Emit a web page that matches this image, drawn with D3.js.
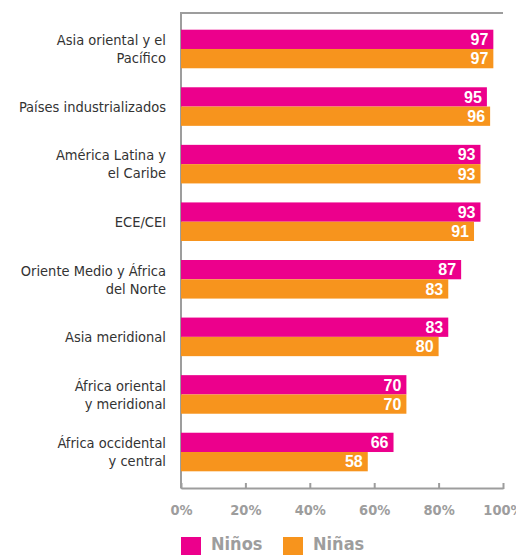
<!DOCTYPE html>
<html>
<head>
<meta charset="utf-8">
<script src="https://cdn.jsdelivr.net/npm/d3@7"></script>
<style>
  html, body { margin: 0; padding: 0; background: #fff; }
  svg { display: block; }
  .cond { font-family: "Liberation Sans Narrow", "DejaVu Sans Condensed", "Roboto", sans-serif; }
</style>
</head>
<body>
<svg id="chart" width="516" height="555"></svg>
<script>
// Regions (label lines), values for boys and girls (%)
const regions = [
  ["Asia oriental y el", "Pacífico"],
  ["Países industrializados"],
  ["América Latina y", "el Caribe"],
  ["ECE/CEI"],
  ["Oriente Medio y África", "del Norte"],
  ["Asia meridional"],
  ["África oriental", "y meridional"],
  ["África occidental", "y central"]
];
const ninos = [97, 95, 93, 93, 87, 83, 70, 66];
const ninas = [97, 96, 93, 91, 83, 80, 70, 58];
const seriesNames = ["Niños", "Niñas"];
const seriesColors = ["#EC008C", "#F7941D"];
const xTicks = [0, 20, 40, 60, 80, 100];

const svg = d3.select("#chart");
const plotL = 181, plotR = 503, plotT = 13, plotB = 488;

const x = d3.scaleLinear().domain([0, 100]).range([plotL, plotR]);
const y = d3.scaleBand()
  .domain(d3.range(regions.length))
  .range([plotT, plotB])
  .paddingInner(0.33)
  .paddingOuter(0.29);
const sub = d3.scaleBand().domain([0, 1]).range([0, y.bandwidth()]);

const axisColor = "#9d9d9d";

// frame: top rule and left axis
svg.append("line").attr("x1", plotL).attr("x2", plotR).attr("y1", plotT).attr("y2", plotT)
  .attr("stroke", axisColor).attr("stroke-width", 2);
svg.append("line").attr("x1", plotL).attr("x2", plotL).attr("y1", plotT - 1).attr("y2", plotB)
  .attr("stroke", axisColor).attr("stroke-width", 2);

// bars
const rows = regions.map((r, i) => ({ i, vals: [ninos[i], ninas[i]] }));
const g = svg.append("g").selectAll("g").data(rows).join("g")
  .attr("transform", d => `translate(0,${y(d.i)})`);

g.selectAll("rect").data(d => d.vals.map((v, k) => ({ v, k }))).join("rect")
  .attr("x", x(0))
  .attr("y", d => sub(d.k))
  .attr("width", d => x(d.v) - x(0))
  .attr("height", sub.bandwidth())
  .attr("fill", d => seriesColors[d.k]);

g.selectAll("text.val").data(d => d.vals.map((v, k) => ({ v, k }))).join("text")
  .attr("class", "val")
  .attr("x", d => x(d.v) - 5)
  .attr("y", d => sub(d.k) + sub.bandwidth() / 2)
  .attr("dy", "0.36em")
  .attr("text-anchor", "end")
  .attr("fill", "#fff")
  .style("font-family", "'Liberation Sans', Arial, sans-serif")
  .style("font-weight", "bold")
  .style("font-size", "16px")
  .text(d => d.v);

// category labels
const lab = svg.append("g").attr("class", "cond");
rows.forEach(d => {
  const lines = regions[d.i];
  const cy = y(d.i) + y.bandwidth() / 2;
  const lh = 18;
  const t = lab.append("text")
    .attr("text-anchor", "end")
    .attr("fill", "#333")
    .style("font-size", "14.5px");
  lines.forEach((ln, j) => {
    t.append("tspan")
      .attr("x", 166)
      .attr("y", cy + (j - (lines.length - 1) / 2) * lh)
      .attr("dy", "0.36em")
      .text(ln);
  });
});

// bottom axis
const xAxis = d3.axisBottom(x).tickValues(xTicks).tickFormat(d => d + "%").tickSize(0).tickPadding(17);
const ax = svg.append("g").attr("transform", `translate(0,${plotB})`).call(xAxis);
ax.select(".domain").attr("stroke", axisColor).attr("stroke-width", 2);
ax.selectAll(".tick").append("line")
  .attr("y1", -5).attr("y2", 1).attr("stroke", axisColor).attr("stroke-width", 2);
ax.selectAll(".tick text")
  .attr("class", "cond")
  .attr("fill", axisColor)
  .style("font-weight", "bold")
  .style("font-size", "14.5px");

// legend
const legX = [181, 283];
const leg = svg.append("g");
seriesNames.forEach((n, k) => {
  leg.append("rect").attr("x", legX[k]).attr("y", 537).attr("width", 20).attr("height", 20)
    .attr("fill", seriesColors[k]);
  leg.append("text").attr("class", "cond")
    .attr("x", legX[k] + 30).attr("y", 550)
    .attr("fill", axisColor)
    .style("font-weight", "bold").style("font-size", "18px")
    .text(n);
});
</script>
</body>
</html>
